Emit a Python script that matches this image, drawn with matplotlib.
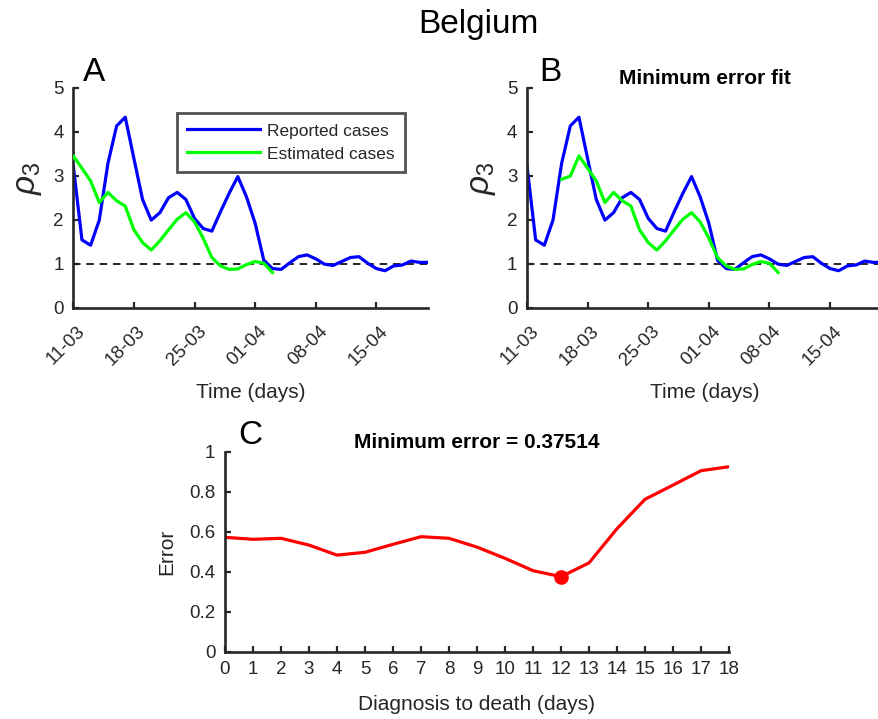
import matplotlib
matplotlib.use("Agg")
import matplotlib.pyplot as plt
import matplotlib.transforms as mtransforms
import numpy as np

plt.rcParams['font.family'] = ['Liberation Sans', 'DejaVu Sans']
plt.rcParams['mathtext.fontset'] = 'custom'
plt.rcParams['mathtext.rm'] = 'Liberation Sans'
plt.rcParams['mathtext.it'] = 'Liberation Sans:italic'

# ---------------- data ----------------
country = "Belgium"
date_ticks = [0, 7, 14, 21, 28, 35]
date_labels = ["11-03", "18-03", "25-03", "01-04", "08-04", "15-04"]

reported = [3.22, 1.54, 1.42, 1.99, 3.28, 4.13, 4.33, 3.39, 2.46, 1.99,
            2.16, 2.50, 2.62, 2.46, 2.03, 1.80, 1.74, 2.18, 2.60, 2.98,
            2.52, 1.92, 1.08, 0.89, 0.87, 1.02, 1.16, 1.20, 1.11, 0.99,
            0.96, 1.05, 1.14, 1.16, 1.01, 0.89, 0.84, 0.95, 0.97, 1.06,
            1.03, 1.03]
estimated = [2.92, 2.99, 3.45, 3.17, 2.88, 2.39, 2.62, 2.43, 2.31, 1.77,
             1.48, 1.31, 1.52, 1.77, 2.01, 2.16, 1.95, 1.58, 1.14, 0.95,
             0.87, 0.88, 0.98, 1.05, 1.01, 0.80]
estimated_start = -2      # first day of the estimated series (panel A)
fit_shift = 6             # shift of the estimated series in the minimum-error fit

delays = list(range(19))
errors = [0.572, 0.562, 0.567, 0.533, 0.483, 0.497, 0.537, 0.575, 0.567, 0.523,
          0.467, 0.405, 0.37514, 0.444, 0.615, 0.762, 0.833, 0.905, 0.925]

# ---------------- style ----------------
W, H = 879, 719
fig = plt.figure(figsize=(W / 100, H / 100), dpi=100)
AX = '#262626'
TICK_FS = 13.5
LAB_FS = 15

def style(ax):
    for s in ['top', 'right']:
        ax.spines[s].set_visible(False)
    for s in ['left', 'bottom']:
        ax.spines[s].set_color(AX)
        ax.spines[s].set_linewidth(1.9)
    ax.tick_params(direction='in', length=4, width=1.6, color=AX,
                   labelcolor=AX, labelsize=TICK_FS)
    ax.tick_params(axis='y', pad=7)

def fx(px):
    return px / W

def fy(py):
    return 1 - py / H

days = np.arange(len(reported))
est_days_A = np.arange(len(estimated)) + estimated_start
est_days_B = est_days_A + fit_shift

axA = fig.add_axes([fx(73.3), fy(307.7), 355 / W, 220 / H])
axB = fig.add_axes([fx(527), fy(307.7), 355 / W, 220 / H])

for ax, ed in [(axA, est_days_A), (axB, est_days_B)]:
    style(ax)
    ax.axhline(1, color='k', lw=1.2, ls=(0, (4.5, 3.5)), zorder=1)
    ax.plot(days, reported, color=(0, 0, 1), lw=2.3, label='Reported cases', zorder=2)
    ax.plot(ed, estimated, color=(0, 1, 0), lw=2.3, label='Estimated cases', zorder=3)
    ax.set_xlim(0, 41)
    ax.set_ylim(0, 5)
    ax.set_yticks([0, 1, 2, 3, 4, 5])
    ax.set_xticks(date_ticks)
    ax.set_xticklabels(date_labels, rotation=45, ha='right', va='top',
                       rotation_mode='anchor')
    ax.tick_params(axis='x', pad=11)
    offset = mtransforms.ScaledTranslation(3 / 100, 0, fig.dpi_scale_trans)
    for lab in ax.get_xticklabels():
        lab.set_transform(lab.get_transform() + offset)
    ax.set_xlabel('Time (days)', fontsize=LAB_FS, color=AX, labelpad=10)
    ax.set_ylabel(r'$\rho_3$', fontsize=24, color=AX)
    ax.yaxis.set_label_coords((44 - 73.3) / 355, 0.59)

leg = axA.legend(loc='upper left', bbox_to_anchor=((177 - 73.3) / 355, (307.7 - 113) / 220),
                 fontsize=12.5, frameon=True, fancybox=False, handlelength=4.2,
                 handletextpad=0.4, borderpad=0.6, labelspacing=0.45,
                 borderaxespad=0)
leg.get_frame().set_edgecolor(AX)
leg.get_frame().set_linewidth(2.0)
for t in leg.get_texts():
    t.set_color(AX)

axB.set_title('Minimum error fit', fontsize=15, fontweight='bold', pad=3)

axC = fig.add_axes([fx(225), fy(651.7), 504 / W, 200 / H])
style(axC)
axC.plot(delays, errors, color=(1, 0, 0), lw=2.3)
imin = int(np.argmin(errors))
axC.plot(delays[imin], errors[imin], 'o', color=(1, 0, 0), ms=9.5)
axC.set_xlim(0, 18)
axC.set_ylim(0, 1)
axC.set_xticks(delays)
axC.set_yticks([0, 0.2, 0.4, 0.6, 0.8, 1])
axC.set_yticklabels(['0', '0.2', '0.4', '0.6', '0.8', '1'])
axC.tick_params(axis='x', pad=7)
axC.set_xlabel('Diagnosis to death (days)', fontsize=LAB_FS, color=AX, labelpad=12)
axC.set_ylabel('Error', fontsize=LAB_FS, color=AX, labelpad=9)
axC.set_title('Minimum error = %.5f' % errors[imin], fontsize=15, fontweight='bold', pad=3)

fig.text(fx(478), fy(33), country, fontsize=24, ha='center', va='baseline')
fig.text(fx(83), fy(81), 'A', fontsize=24, ha='left', va='baseline')
fig.text(fx(539), fy(81), 'B', fontsize=24, ha='left', va='baseline')
fig.text(fx(238), fy(444), 'C', fontsize=24, ha='left', va='baseline')

fig.savefig('out.png', dpi=100)
